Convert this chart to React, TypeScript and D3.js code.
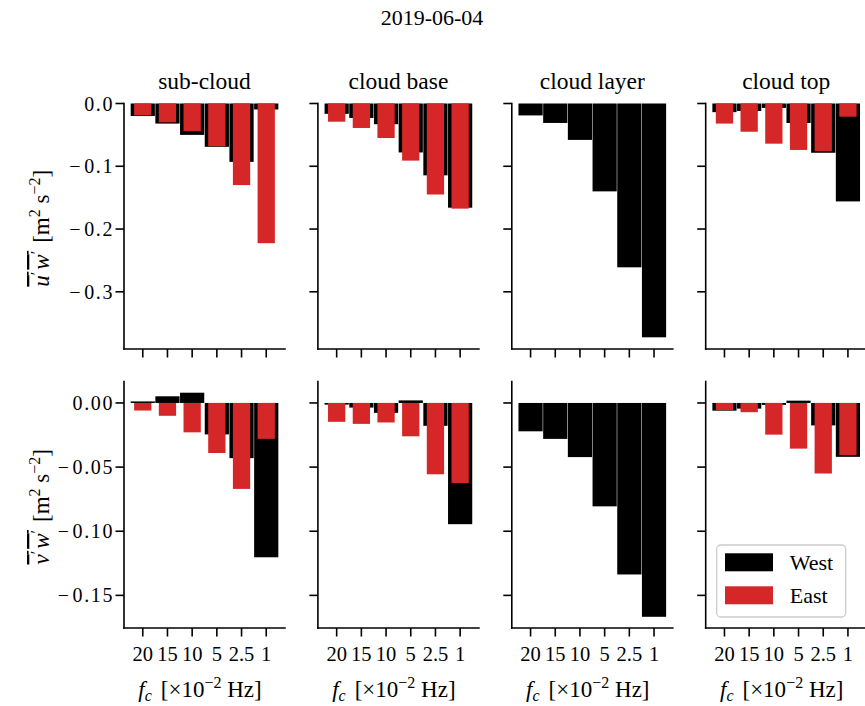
import React from 'react';
import * as d3 from 'd3';

const WIDTH = 865;
const HEIGHT = 706;
const FONT = '"Liberation Serif", "Times New Roman", serif';
const RED = '#d62728';

const SUPTITLE = '2019-06-04';
const CUTOFFS = ['20', '15', '10', '5', '2.5', '1'];
const LEVELS = ['sub-cloud', 'cloud base', 'cloud layer', 'cloud top'];
const SERIES = ['West', 'East'];

// u'w' momentum flux per cutoff frequency [m2 s-2]
const UW_WEST_SUB_CLOUD = [-0.02, -0.032, -0.05, -0.069, -0.093, -0.0095];
const UW_EAST_SUB_CLOUD = [-0.019, -0.03, -0.044, -0.068, -0.13, -0.2226];
const UW_WEST_CLOUD_BASE = [-0.0165, -0.023, -0.033, -0.078, -0.1145, -0.166];
const UW_EAST_CLOUD_BASE = [-0.029, -0.039, -0.055, -0.091, -0.145, -0.1675];
const UW_WEST_CLOUD_LAYER = [-0.019, -0.031, -0.058, -0.14, -0.261, -0.3725];
const UW_EAST_CLOUD_LAYER: (number | null)[] = [null, null, null, null, null, null];
const UW_WEST_CLOUD_TOP = [-0.0138, -0.012, -0.007, -0.031, -0.0785, -0.156];
const UW_EAST_CLOUD_TOP = [-0.032, -0.045, -0.064, -0.074, -0.076, -0.021];

// v'w' momentum flux per cutoff frequency [m2 s-2]
const VW_WEST_SUB_CLOUD = [0.0012, 0.0052, 0.008, -0.0245, -0.043, -0.1203];
const VW_EAST_SUB_CLOUD = [-0.0059, -0.01, -0.0229, -0.039, -0.067, -0.028];
const VW_WEST_CLOUD_BASE = [-0.0013, -0.0036, -0.0077, 0.002, -0.0178, -0.0945];
const VW_EAST_CLOUD_BASE = [-0.0147, -0.0163, -0.0152, -0.026, -0.0556, -0.0624];
const VW_WEST_CLOUD_LAYER = [-0.0221, -0.028, -0.0422, -0.0806, -0.1337, -0.1667];
const VW_EAST_CLOUD_LAYER: (number | null)[] = [null, null, null, null, null, null];
const VW_WEST_CLOUD_TOP = [-0.006, -0.0044, -0.0015, 0.0018, -0.0175, -0.042];
const VW_EAST_CLOUD_TOP = [-0.0055, -0.0072, -0.0247, -0.0356, -0.055, -0.0407];

const ROWS = [
  {
    west: [UW_WEST_SUB_CLOUD, UW_WEST_CLOUD_BASE, UW_WEST_CLOUD_LAYER, UW_WEST_CLOUD_TOP],
    east: [UW_EAST_SUB_CLOUD, UW_EAST_CLOUD_BASE, UW_EAST_CLOUD_LAYER, UW_EAST_CLOUD_TOP],
    fmt: '.1f',
    varName: 'u',
  },
  {
    west: [VW_WEST_SUB_CLOUD, VW_WEST_CLOUD_BASE, VW_WEST_CLOUD_LAYER, VW_WEST_CLOUD_TOP],
    east: [VW_EAST_SUB_CLOUD, VW_EAST_CLOUD_BASE, VW_EAST_CLOUD_LAYER, VW_EAST_CLOUD_TOP],
    fmt: '.2f',
    varName: 'v',
  },
];

// layout
const COL_X0 = 124;
const COL_STEP = 193.9;
const PANEL_W = 161;
const ROW_BOX = [
  { top: 103.5, bottom: 349 },
  { top: 381.5, bottom: 628 },
];
const TICK_LEN = 8.5;
const SPINE_W = 1.6;

// matplotlib-like autoscale: 5% margin, sticky at zero for bars
function rowDomain(all: (number | null)[]): [number, number] {
  const vals = all.filter((v): v is number => v != null).concat([0]);
  const lo = d3.min(vals) as number;
  const hi = d3.max(vals) as number;
  const pad = (hi - lo) * 0.05;
  return [lo - pad, hi > 0 ? hi + pad : 0];
}

function TickLabel({ text, x, y }: { text: string; x: number; y: number }) {
  const neg = text.startsWith('\u2212') || text.startsWith('-');
  const body = neg ? text.slice(1) : text;
  return (
    <text x={x} y={y} textAnchor="end" fontSize={20} fontFamily={FONT} fill="#000" letterSpacing={1.6}>
      {neg && <tspan>{'\u2212'}</tspan>}
      <tspan dx={neg ? 2 : 0}>{body}</tspan>
    </text>
  );
}

function Panel({ row, col }: { row: number; col: number }) {
  const r = ROWS[row];
  const box = ROW_BOX[row];
  const left = COL_X0 + col * COL_STEP;
  const right = left + PANEL_W;
  const all = ([] as (number | null)[]).concat(...r.west, ...r.east);
  const y = d3.scaleLinear().domain(rowDomain(all)).range([box.bottom, box.top]);
  const x = d3.scaleBand().domain(CUTOFFS).range([left, right]).paddingInner(0).paddingOuter(0.26);
  const step = x.step();
  const cx = (c: string) => (x(c) as number) + x.bandwidth() / 2;
  const yTicks = y.ticks(5);
  const fmt = d3.format(r.fmt);
  const west = r.west[col];
  const east = r.east[col];
  const bar = (v: number, w: number, c: string, fill: string, key: string) => (
    <rect
      key={key}
      x={cx(c) - (w * step) / 2}
      width={w * step}
      y={Math.min(y(v), y(0))}
      height={Math.abs(y(v) - y(0))}
      fill={fill}
    />
  );
  return (
    <g>
      <clipPath id={`clip-${row}-${col}`}>
        <rect x={left} y={box.top - 2} width={PANEL_W} height={box.bottom - box.top + 2} />
      </clipPath>
      <g clipPath={`url(#clip-${row}-${col})`}>
        {west.map((v, i) => (v == null ? null : bar(v, 0.98, CUTOFFS[i], '#000', `w${i}`)))}
        {east.map((v, i) => (v == null ? null : bar(v, 0.7, CUTOFFS[i], RED, `e${i}`)))}
      </g>
      {/* spines */}
      <line x1={left} x2={left} y1={box.top} y2={box.bottom} stroke="#000" strokeWidth={SPINE_W} strokeLinecap="square" />
      <line x1={left} x2={right} y1={box.bottom} y2={box.bottom} stroke="#000" strokeWidth={SPINE_W} strokeLinecap="square" />
      {/* y ticks */}
      {yTicks.map((t) => (
        <g key={`yt${t}`}>
          <line x1={left - TICK_LEN} x2={left} y1={y(t)} y2={y(t)} stroke="#000" strokeWidth={SPINE_W} />
          {col === 0 && <TickLabel text={fmt(t)} x={left - 10} y={y(t) + 7} />}
        </g>
      ))}
      {/* x ticks */}
      {CUTOFFS.map((c) => (
        <g key={`xt${c}`}>
          <line x1={cx(c)} x2={cx(c)} y1={box.bottom} y2={box.bottom + TICK_LEN} stroke="#000" strokeWidth={SPINE_W} />
          {row === 1 && (
            <text x={cx(c)} y={box.bottom + 33} textAnchor="middle" fontSize={20.5} fontFamily={FONT}>
              {c}
            </text>
          )}
        </g>
      ))}
      {row === 0 && (
        <text x={(left + right) / 2} y={89} textAnchor="middle" fontSize={23.5} fontFamily={FONT}>
          {LEVELS[col]}
        </text>
      )}
      {row === 1 && (
        <text x={(left + right) / 2 - 4.5} y={697} textAnchor="middle" fontSize={23} fontFamily={FONT}>
          <tspan fontStyle="italic">f</tspan>
          <tspan fontStyle="italic" fontSize={16} dy={4}>c</tspan>
          <tspan dy={-4} dx={9}>{'[\u00d710'}</tspan>
          <tspan fontSize={16} dy={-9}>{'\u22122'}</tspan>
          <tspan dy={9}>{' Hz]'}</tspan>
        </text>
      )}
      {col === 0 && <YLabel v={r.varName} cy={(box.top + box.bottom) / 2 + 2} />}
      {row === 1 && col === 3 && <Legend right={right} bottom={box.bottom} />}
    </g>
  );
}

function YLabel({ v, cy }: { v: string; cy: number }) {
  return (
    <text
      transform={`translate(49, ${cy}) rotate(-90)`}
      textAnchor="middle"
      fontSize={23}
      fontFamily={FONT}
    >
      <tspan style={{ textDecoration: 'overline' }}>
        <tspan fontStyle="italic">{v}</tspan>
        <tspan fontSize={16} dy={-7}>{'\u2032'}</tspan>
        <tspan fontStyle="italic" dy={7} dx={2}>w</tspan>
        <tspan fontSize={16} dy={-7}>{'\u2032'}</tspan>
      </tspan>
      <tspan dy={7} dx={8}>[m</tspan>
      <tspan fontSize={16} dy={-9}>2</tspan>
      <tspan dy={9}>{' s'}</tspan>
      <tspan fontSize={16} dy={-9}>{'\u22122'}</tspan>
      <tspan dy={9}>]</tspan>
    </text>
  );
}

function Legend({ right, bottom }: { right: number; bottom: number }) {
  const x0 = right - 150;
  const y0 = bottom - 83;
  const fills = ['#000', RED];
  return (
    <g>
      <rect x={x0} y={y0} width={129} height={72} rx={4} fill="#fff" fillOpacity={0.8} stroke="#cccccc" strokeWidth={1.3} />
      {SERIES.map((s, i) => (
        <g key={s}>
          <rect x={x0 + 8.3} y={y0 + 8.3 + i * 33} width={48} height={18} fill={fills[i]} />
          <text x={x0 + 73} y={y0 + 24.5 + i * 33} fontSize={22} fontFamily={FONT}>
            {s}
          </text>
        </g>
      ))}
    </g>
  );
}

export default function App() {
  return (
    <svg
      width={WIDTH}
      height={HEIGHT}
      style={{ position: 'absolute', left: 0, top: 0, background: '#fff' }}
      fontFamily={FONT}
    >
      <rect width={WIDTH} height={HEIGHT} fill="#fff" />
      <text x={432} y={25} textAnchor="middle" fontSize={22} fontFamily={FONT}>
        {SUPTITLE}
      </text>
      {[0, 1].map((row) => [0, 1, 2, 3].map((col) => <Panel key={`${row}-${col}`} row={row} col={col} />))}
    </svg>
  );
}
